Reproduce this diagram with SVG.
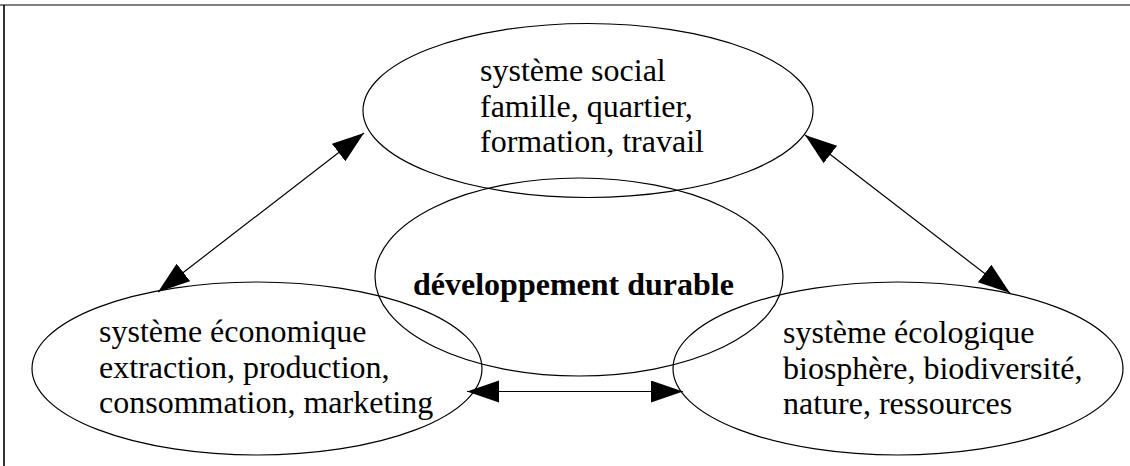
<svg xmlns="http://www.w3.org/2000/svg" width="1130" height="466" viewBox="0 0 1130 466">
<style>
.node ellipse{fill:none;stroke:#000;stroke-width:1.2}
.node text{font-family:"Liberation Serif","Times New Roman",serif;font-size:32px;fill:#000}
.node text.b{font-weight:bold}
.conn line{stroke:#000;stroke-width:1.2;marker-start:url(#ah);marker-end:url(#ah)}
</style>
<defs>
<marker id="ah" markerUnits="userSpaceOnUse" markerWidth="34" markerHeight="24" refX="32" refY="11" orient="auto-start-reverse" viewBox="0 0 34 24">
<path d="M0,0 L32,11 L0,22 Z" fill="#000"/>
</marker>
</defs>
<rect width="1130" height="466" fill="#fff"/>
<g id="frame">
<line x1="0" y1="5" x2="1130" y2="5" stroke="#808080" stroke-width="2"/>
<line x1="4" y1="5" x2="4" y2="466" stroke="#000" stroke-width="1.6"/>
</g>
<g id="social" class="node">
<ellipse cx="588" cy="110.5" rx="225" ry="87"/>
<text x="480" y="81">système social</text>
<text x="480" y="116.5">famille, quartier,</text>
<text x="480" y="152">formation, travail</text>
</g>
<g id="durable" class="node">
<ellipse cx="579" cy="277" rx="204" ry="99"/>
<text class="b" x="413" y="295">développement durable</text>
</g>
<g id="economique" class="node">
<ellipse cx="257" cy="368.5" rx="225" ry="86.5"/>
<text x="99" y="342">système économique</text>
<text x="99" y="377.5">extraction, production,</text>
<text x="99" y="413">consommation, marketing</text>
</g>
<g id="ecologique" class="node">
<ellipse cx="898" cy="368.5" rx="225" ry="86.5"/>
<text x="783" y="343">système écologique</text>
<text x="783" y="378.5">biosphère, biodiversité,</text>
<text x="783" y="414">nature, ressources</text>
</g>
<g id="connectors" class="conn">
<line x1="364" y1="133" x2="158" y2="292"/>
<line x1="805" y1="135" x2="1010" y2="293"/>
<line x1="467" y1="391.5" x2="683" y2="391.5"/>
</g>
</svg>
